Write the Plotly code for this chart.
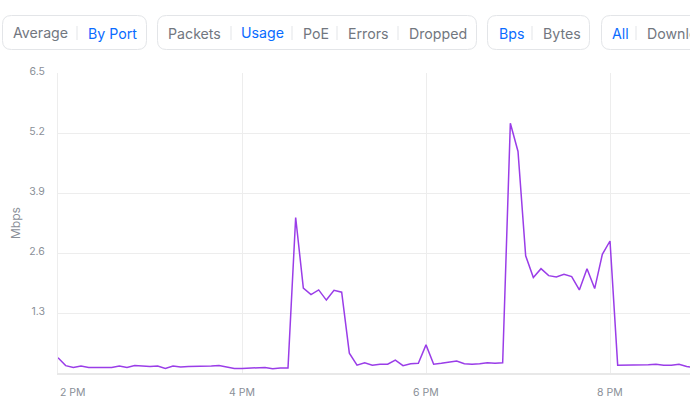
import pandas as pd
import plotly.graph_objects as go

# ---------------- data ----------------
start_time = "2024-01-01 14:00"
usage_mbps = [
    0.33, 0.16, 0.12, 0.15, 0.12, 0.12, 0.13, 0.12, 0.15, 0.12,
    0.16, 0.15, 0.14, 0.15, 0.10, 0.15, 0.13, 0.14, 0.14, 0.14,
    0.15, 0.16, 0.13, 0.10, 0.10, 0.11, 0.12, 0.12, 0.09, 0.11,
    0.11, 3.37, 1.84, 1.70, 1.80, 1.58, 1.79, 1.75, 0.43, 0.17,
    0.22, 0.17, 0.19, 0.19, 0.28, 0.16, 0.20, 0.21, 0.61, 0.19,
    0.21, 0.24, 0.26, 0.20, 0.19, 0.20, 0.22, 0.21, 0.22, 5.41,
    4.80, 2.54, 2.07, 2.26, 2.11, 2.08, 2.14, 2.09, 1.80, 2.26,
    1.83, 2.57, 2.86, 0.17, 0.17, 0.17, 0.18, 0.18, 0.19, 0.17,
    0.17, 0.19, 0.14, 0.12,
]
times = pd.date_range(start_time, periods=len(usage_mbps), freq="5min")

y_tick_vals = [1.3, 2.6, 3.9, 5.2, 6.5]
y_tick_text = ["1.3", "2.6", "3.9", "5.2", "6.5"]
x_tick_vals = ["2024-01-01 14:00", "2024-01-01 16:00", "2024-01-01 18:00", "2024-01-01 20:00"]
x_tick_text = ["2 PM", "4 PM", "6 PM", "8 PM"]
x_range = ["2024-01-01 14:00", "2024-01-01 20:52:10"]
y_range = [0, 6.5]

button_groups = [
    [("Average", False), ("By Port", True)],
    [("Packets", False), ("Usage", True), ("PoE", False), ("Errors", False), ("Dropped", False)],
    [("Bps", True), ("Bytes", False)],
    [("All", True), ("Download", False)],
]

# ---------------- layout geometry (pixels) ----------------
W, H = 690, 409
L, R, T, B = 58, 0, 73, 36
PW, PH = W - L - R, H - T - B

def px(x):
    return (x - L) / PW

def py(y):
    return (H - B - y) / PH

LINE_COLOR = "#9a3de8"
GRID = "#ededed"
TXT = "#8a8f98"
BTN_TXT = "#72777f"
BLUE = "#0a6cff"
BORDER = "#e3e5e8"
FONT = "Inter"

fig = go.Figure()
fig.add_trace(go.Scatter(
    x=times, y=usage_mbps, mode="lines",
    line=dict(color=LINE_COLOR, width=1.5),
    hoverinfo="skip",
))

shapes = []
annotations = []

# button group boxes
box_x = [(2, 147), (157, 477), (487, 590), (601, 720)]
box_y = (15, 50)
text_left = [[12, 87], [167, 240, 302, 347, 408], [498, 542], [611, 646]]
dividers = [[77], [231, 292, 337, 398], [532], [636]]

def rounded_rect(x0, x1, y0, y1, r):
    rx = r / PW
    ry = r / PH
    X0, X1 = px(x0), px(x1)
    Y0, Y1 = py(y0), py(y1)  # Y0 top (greater), Y1 bottom
    return (f"M {X0+rx},{Y0} L {X1-rx},{Y0} Q {X1},{Y0} {X1},{Y0-ry} "
            f"L {X1},{Y1+ry} Q {X1},{Y1} {X1-rx},{Y1} "
            f"L {X0+rx},{Y1} Q {X0},{Y1} {X0},{Y1+ry} "
            f"L {X0},{Y0-ry} Q {X0},{Y0} {X0+rx},{Y0} Z")

for gi, group in enumerate(button_groups):
    x0, x1 = box_x[gi]
    shapes.append(dict(type="path", xref="paper", yref="paper",
                       path=rounded_rect(x0 + 0.5, x1 - 0.5, box_y[0] + 0.5, box_y[1] - 0.5, 9),
                       line=dict(color=BORDER, width=1), fillcolor="rgba(0,0,0,0)", layer="above"))
    for dx in dividers[gi]:
        shapes.append(dict(type="line", xref="paper", yref="paper",
                           x0=px(dx), x1=px(dx), y0=py(26), y1=py(40),
                           line=dict(color=BORDER, width=1)))
    for (label, active), lx in zip(group, text_left[gi]):
        annotations.append(dict(text=label, xref="paper", yref="paper",
                                x=px(lx - 1), y=py(33), xanchor="left", yanchor="middle",
                                showarrow=False,
                                font=dict(family=FONT, size=14.2, color=BLUE if active else BTN_TXT)))

# x tick labels
for i, (tv, tt) in enumerate(zip(x_tick_vals, x_tick_text)):
    annotations.append(dict(text=tt, xref="x", yref="paper", x=tv, y=0,
                            xanchor="left" if i == 0 else "center", yanchor="middle",
                            yshift=-19, showarrow=False,
                            font=dict(family=FONT, size=10.5, color=TXT)))

# y axis title
annotations.append(dict(text="Mbps", xref="paper", yref="paper", x=px(15), y=py(223),
                        xanchor="center", yanchor="middle", textangle=-90, showarrow=False,
                        font=dict(family=FONT, size=12, color=TXT)))

fig.update_layout(
    width=W, height=H,
    margin=dict(l=L, r=R, t=T, b=B, pad=0),
    paper_bgcolor="white", plot_bgcolor="white",
    showlegend=False,
    shapes=shapes, annotations=annotations,
    font=dict(family=FONT),
    xaxis=dict(type="date", range=x_range, tickvals=x_tick_vals, showticklabels=False,
               showgrid=True, gridcolor=GRID, gridwidth=1, zeroline=False,
               showline=True, linecolor="#e8e8e8", linewidth=2, ticks=""),
    yaxis=dict(range=y_range, tickvals=y_tick_vals, ticktext=y_tick_text,
               showgrid=True, gridcolor=GRID, gridwidth=1, zeroline=False,
               showline=True, linecolor=GRID, linewidth=1, ticks="",
               ticklabelstandoff=10, ticklabelshift=-2,
               tickfont=dict(family=FONT, size=10.5, color=TXT)),
)

fig.write_html("out.html", config={"displayModeBar": False},
               post_script="document.body.style.margin='0px';document.body.style.overflow='hidden';")
